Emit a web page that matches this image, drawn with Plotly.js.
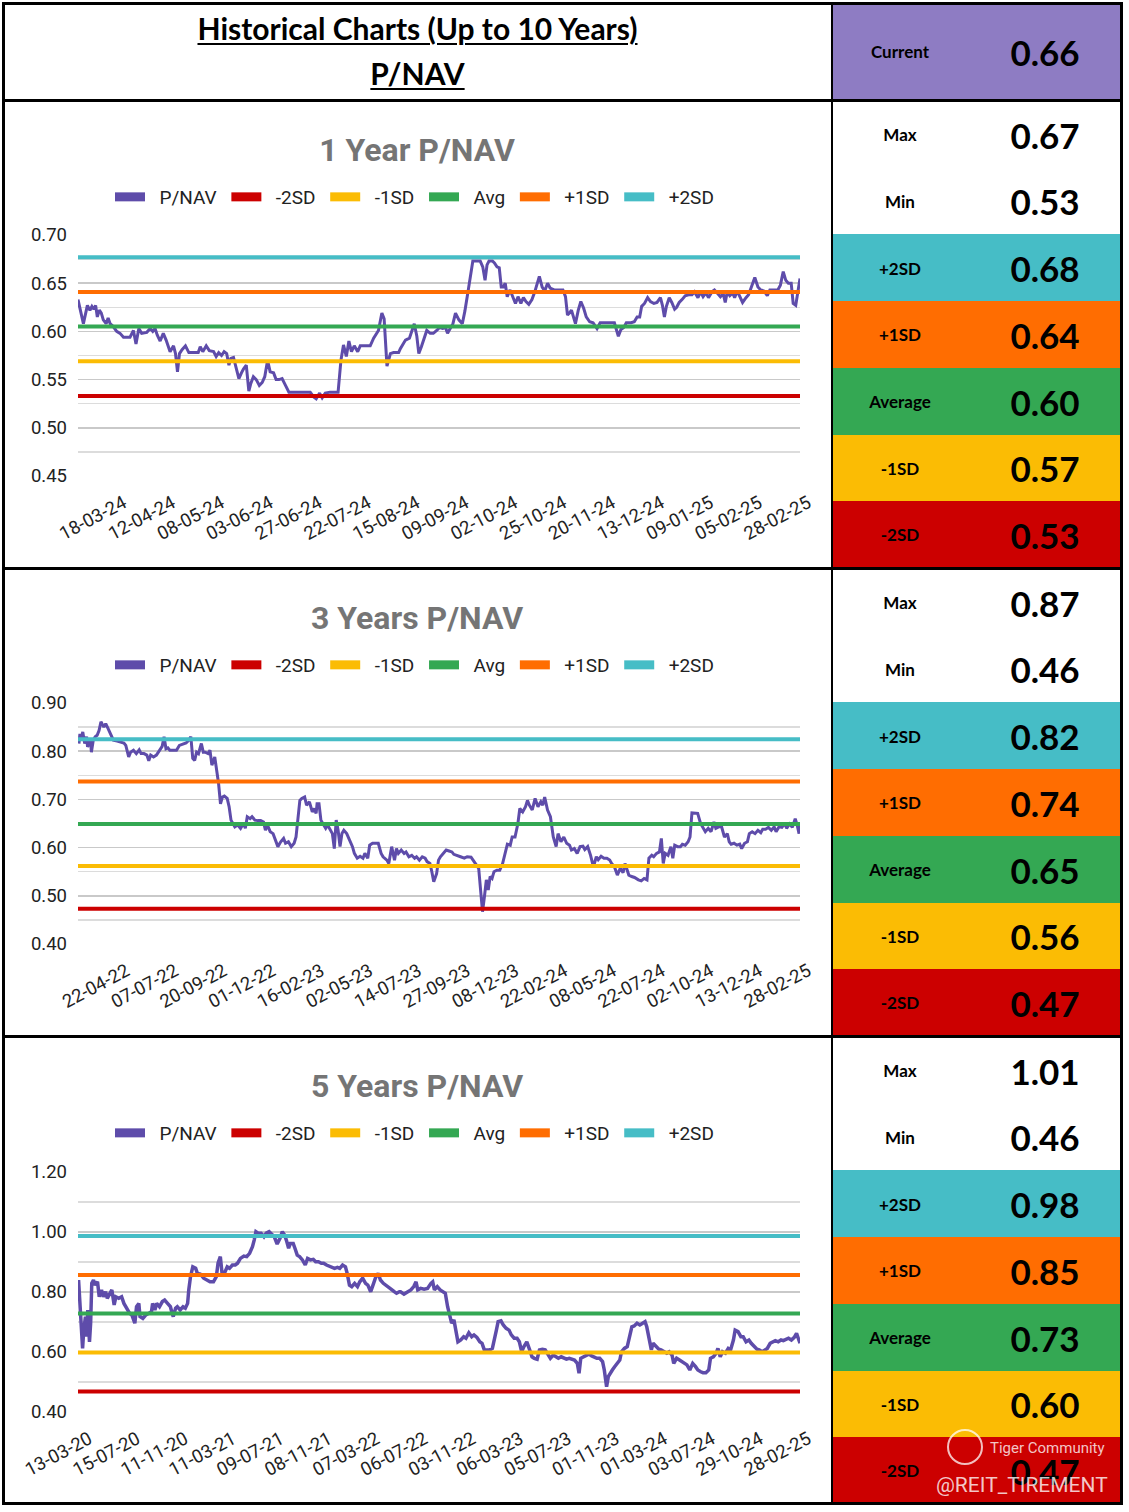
<!DOCTYPE html>
<html><head><meta charset="utf-8">
<script src="https://cdn.plot.ly/plotly-3.0.1.min.js"></script>
<style>
body{margin:0;background:#fff;}
#page{position:relative;width:1129px;height:1512px;overflow:hidden;background:#fff;}
.bl{position:absolute;background:#000;z-index:10;}
.chart{position:absolute;left:2px;width:830px;height:467px;z-index:1;}
.cell{position:absolute;left:833px;width:289px;z-index:2;}
.lab{position:absolute;left:0;width:134px;top:0;bottom:0;display:flex;align-items:center;justify-content:center;font-family:Lato;font-weight:bold;font-size:17px;color:#000;}
.val{position:absolute;left:142px;width:140px;top:0;bottom:0;display:flex;align-items:center;justify-content:center;font-family:Lato;font-weight:bold;font-size:35px;color:#000;}
.hdr{position:absolute;left:3px;width:829px;text-align:center;font-family:Lato;font-weight:bold;font-size:30px;color:#000;text-decoration:underline;text-decoration-thickness:2px;text-underline-offset:3px;z-index:3;}
.wm{position:absolute;z-index:20;color:rgba(255,255,255,0.78);font-family:Roboto;}
</style>
</head><body>
<div id="page"></div>
<script>
// ---------------- DATA ----------------
const currentValue = '0.66';
const rowLabels = ['Max','Min','+2SD','+1SD','Average','-1SD','-2SD'];
const table1Y = ['0.67','0.53','0.68','0.64','0.60','0.57','0.53'];
const table3Y = ['0.87','0.46','0.82','0.74','0.65','0.56','0.47'];
const table5Y = ['1.01','0.46','0.98','0.85','0.73','0.60','0.47'];

const legendNames = ['P/NAV','-2SD','-1SD','Avg','+1SD','+2SD'];
// band levels: -2SD, -1SD, Avg, +1SD, +2SD
const bands1Y = [0.533, 0.569, 0.605, 0.641, 0.677];
const bands3Y = [0.473, 0.562, 0.649, 0.737, 0.825];
const bands5Y = [0.468, 0.598, 0.728, 0.857, 0.987];

const ticks1Y = ['18-03-24','12-04-24','08-05-24','03-06-24','27-06-24','22-07-24','15-08-24','09-09-24','02-10-24','25-10-24','20-11-24','13-12-24','09-01-25','05-02-25','28-02-25'];
const ticks3Y = ['22-04-22','07-07-22','20-09-22','01-12-22','16-02-23','02-05-23','14-07-23','27-09-23','08-12-23','22-02-24','08-05-24','22-07-24','02-10-24','13-12-24','28-02-25'];
const ticks5Y = ['13-03-20','15-07-20','11-11-20','11-03-21','09-07-21','08-11-21','07-03-22','06-07-22','03-11-22','06-03-23','05-07-23','01-11-23','01-03-24','03-07-24','29-10-24','28-02-25'];

// [trading-day index, P/NAV]
const pnav1Y = [[0,0.633],[1.9,0.608],[3.3,0.627],[4.2,0.622],[4.9,0.626],[5.6,0.623],[6.2,0.627],[6.8,0.615],[7.5,0.622],[8.2,0.619],[8.9,0.612],[9.9,0.608],[10.6,0.614],[11.3,0.608],[12.4,0.605],[13.6,0.600],[14.8,0.598],[16.0,0.594],[18.3,0.594],[19.5,0.601],[20.4,0.587],[21.4,0.603],[22.4,0.598],[24.2,0.599],[25.4,0.603],[26.3,0.600],[27.1,0.603],[27.9,0.596],[28.9,0.590],[30.0,0.598],[31.0,0.591],[32.4,0.579],[33.6,0.585],[34.3,0.577],[35.0,0.558],[35.7,0.577],[36.6,0.581],[37.8,0.585],[39.0,0.578],[40.6,0.578],[42.3,0.578],[43.0,0.584],[43.9,0.579],[45.1,0.585],[46.2,0.580],[47.7,0.579],[48.6,0.574],[49.5,0.578],[50.5,0.575],[51.4,0.579],[52.3,0.577],[53.1,0.565],[53.8,0.572],[54.7,0.573],[55.6,0.563],[56.6,0.551],[57.5,0.557],[58.2,0.561],[59.2,0.565],[60.1,0.538],[60.8,0.546],[61.7,0.553],[62.7,0.550],[63.8,0.544],[64.8,0.547],[65.7,0.553],[66.7,0.570],[67.6,0.558],[68.8,0.557],[69.7,0.550],[70.7,0.550],[71.8,0.551],[73.0,0.544],[74.2,0.537],[77.0,0.537],[79.3,0.537],[81.7,0.537],[82.9,0.532],[83.8,0.530],[85.0,0.536],[85.9,0.531],[87.0,0.536],[88.7,0.537],[91.5,0.537],[92.5,0.570],[93.4,0.586],[94.4,0.574],[95.3,0.590],[96.2,0.579],[97.2,0.585],[98.4,0.579],[99.3,0.585],[101.1,0.585],[102.8,0.585],[104.0,0.593],[105.7,0.601],[106.9,0.619],[107.7,0.613],[108.7,0.564],[109.9,0.577],[111.0,0.578],[112.8,0.578],[113.4,0.582],[114.3,0.586],[115.2,0.591],[116.6,0.593],[117.6,0.601],[118.3,0.608],[119.2,0.595],[119.9,0.577],[120.8,0.584],[121.8,0.593],[122.7,0.601],[123.9,0.598],[125.0,0.598],[126.2,0.601],[127.2,0.604],[128.3,0.603],[129.3,0.604],[130.0,0.598],[130.9,0.603],[131.9,0.608],[132.8,0.619],[134.0,0.612],[135.2,0.608],[136.1,0.621],[137.3,0.643],[138.2,0.660],[138.9,0.673],[140.3,0.673],[141.5,0.673],[142.4,0.667],[143.2,0.653],[143.9,0.669],[144.6,0.673],[145.8,0.673],[146.5,0.671],[147.4,0.667],[148.2,0.666],[148.9,0.646],[149.6,0.646],[150.3,0.650],[151.0,0.636],[152.0,0.643],[152.9,0.637],[153.9,0.629],[154.8,0.636],[155.8,0.629],[156.7,0.635],[157.6,0.631],[158.6,0.628],[159.7,0.633],[160.7,0.641],[161.6,0.650],[162.3,0.657],[163.3,0.646],[164.2,0.642],[165.2,0.650],[166.1,0.645],[167.5,0.643],[169.2,0.643],[170.6,0.643],[171.5,0.636],[172.2,0.617],[172.9,0.619],[173.6,0.622],[174.3,0.615],[175.0,0.608],[176.0,0.622],[176.9,0.631],[177.9,0.624],[178.8,0.615],[180.0,0.610],[181.2,0.609],[182.6,0.603],[183.7,0.609],[185.2,0.609],[187.3,0.609],[188.7,0.609],[189.4,0.602],[190.1,0.595],[191.0,0.602],[192.0,0.604],[192.9,0.609],[194.6,0.609],[195.7,0.610],[196.7,0.615],[197.6,0.615],[198.3,0.626],[199.3,0.629],[200.4,0.635],[201.4,0.631],[202.6,0.629],[203.7,0.630],[204.9,0.635],[205.6,0.627],[206.3,0.615],[207.0,0.626],[208.0,0.635],[208.9,0.630],[209.9,0.623],[210.6,0.625],[211.5,0.630],[212.5,0.633],[213.6,0.637],[214.8,0.638],[216.0,0.638],[216.9,0.641],[218.1,0.635],[219.0,0.641],[219.9,0.636],[220.9,0.640],[221.8,0.635],[223.0,0.641],[223.9,0.643],[225.1,0.639],[226.0,0.636],[227.0,0.639],[227.7,0.630],[228.4,0.641],[229.3,0.637],[230.3,0.640],[231.0,0.635],[231.9,0.642],[232.9,0.635],[233.8,0.630],[235.0,0.635],[235.9,0.638],[236.9,0.646],[238.1,0.656],[239.2,0.646],[240.2,0.643],[241.3,0.642],[242.5,0.637],[243.4,0.643],[244.8,0.643],[246.2,0.643],[247.1,0.648],[248.1,0.662],[249.0,0.653],[249.9,0.650],[250.9,0.650],[251.6,0.629],[252.5,0.627],[253.3,0.643],[254.0,0.655]];

const pnav3Y = [[1,0.816],[2,0.836],[3,0.823],[5,0.840],[7,0.816],[9,0.830],[10,0.809],[13,0.823],[14,0.798],[16,0.823],[18,0.830],[20,0.833],[22,0.843],[24,0.861],[27,0.850],[29,0.857],[31,0.849],[34,0.836],[37,0.823],[41,0.821],[44,0.819],[48,0.817],[50,0.812],[53,0.788],[55,0.798],[58,0.802],[61,0.795],[64,0.803],[66,0.795],[69,0.795],[72,0.792],[74,0.780],[76,0.792],[79,0.788],[82,0.792],[85,0.802],[88,0.810],[90,0.830],[92,0.805],[94,0.807],[96,0.802],[100,0.802],[103,0.802],[106,0.812],[110,0.814],[113,0.817],[116,0.823],[118,0.830],[120,0.785],[122,0.781],[124,0.798],[126,0.795],[129,0.816],[131,0.798],[133,0.798],[136,0.795],[138,0.802],[140,0.771],[143,0.788],[145,0.760],[147,0.733],[149,0.691],[151,0.705],[153,0.707],[156,0.702],[158,0.685],[160,0.657],[162,0.650],[164,0.643],[167,0.647],[170,0.640],[173,0.650],[175,0.640],[177,0.664],[180,0.660],[182,0.664],[185,0.657],[188,0.656],[191,0.656],[194,0.653],[196,0.636],[198,0.647],[201,0.633],[204,0.629],[207,0.615],[209,0.602],[212,0.612],[215,0.619],[217,0.609],[220,0.612],[223,0.602],[226,0.609],[228,0.622],[230,0.664],[232,0.698],[234,0.702],[237,0.705],[239,0.688],[242,0.695],[245,0.674],[247,0.681],[249,0.671],[250,0.691],[252,0.691],[254,0.657],[256,0.650],[259,0.640],[261,0.647],[263,0.640],[266,0.629],[268,0.598],[270,0.657],[272,0.636],[274,0.602],[276,0.629],[278,0.636],[281,0.629],[284,0.615],[287,0.602],[289,0.588],[292,0.578],[295,0.582],[298,0.578],[300,0.588],[303,0.578],[305,0.605],[308,0.609],[311,0.609],[314,0.609],[317,0.588],[319,0.581],[323,0.574],[325,0.567],[328,0.602],[331,0.574],[333,0.598],[335,0.588],[338,0.595],[341,0.588],[343,0.591],[346,0.581],[349,0.584],[352,0.578],[354,0.581],[357,0.574],[360,0.581],[363,0.578],[365,0.571],[368,0.567],[370,0.550],[372,0.529],[375,0.546],[377,0.574],[379,0.581],[382,0.589],[385,0.595],[388,0.593],[391,0.591],[393,0.586],[397,0.584],[400,0.581],[404,0.578],[407,0.581],[411,0.580],[414,0.571],[416,0.567],[419,0.557],[421,0.512],[423,0.467],[425,0.498],[427,0.533],[429,0.512],[431,0.540],[433,0.536],[435,0.550],[438,0.553],[441,0.553],[444,0.567],[447,0.588],[449,0.607],[452,0.605],[454,0.622],[457,0.622],[460,0.650],[462,0.681],[465,0.674],[468,0.685],[470,0.698],[472,0.688],[475,0.678],[478,0.702],[481,0.685],[484,0.695],[486,0.688],[488,0.705],[491,0.678],[494,0.664],[497,0.622],[500,0.602],[502,0.629],[505,0.612],[508,0.622],[511,0.609],[514,0.605],[516,0.595],[519,0.598],[522,0.588],[525,0.602],[528,0.603],[530,0.596],[533,0.602],[536,0.584],[539,0.560],[542,0.581],[544,0.575],[547,0.582],[550,0.578],[553,0.578],[556,0.574],[558,0.567],[561,0.560],[564,0.543],[567,0.557],[570,0.548],[572,0.567],[574,0.553],[576,0.543],[579,0.540],[582,0.538],[586,0.533],[589,0.531],[592,0.536],[595,0.533],[597,0.578],[600,0.584],[602,0.581],[605,0.588],[608,0.591],[610,0.619],[612,0.567],[614,0.588],[617,0.584],[620,0.602],[622,0.578],[624,0.605],[627,0.602],[630,0.602],[632,0.607],[635,0.605],[638,0.612],[640,0.622],[642,0.672],[645,0.672],[648,0.671],[651,0.650],[653,0.643],[656,0.633],[659,0.640],[662,0.633],[665,0.653],[667,0.640],[670,0.643],[673,0.643],[676,0.622],[679,0.629],[681,0.612],[683,0.607],[686,0.609],[689,0.605],[692,0.607],[694,0.598],[697,0.609],[700,0.612],[702,0.629],[705,0.633],[708,0.629],[711,0.636],[714,0.631],[716,0.638],[719,0.638],[722,0.642],[725,0.636],[728,0.643],[730,0.633],[733,0.643],[736,0.642],[739,0.650],[741,0.640],[744,0.649],[747,0.642],[750,0.660],[752,0.647],[754,0.629],[755,0.653]];

const pnav5Y = [[1,0.840],[3,0.773],[6,0.651],[8,0.612],[10,0.673],[13,0.718],[15,0.651],[17,0.740],[20,0.634],[22,0.696],[24,0.829],[27,0.840],[30,0.823],[34,0.834],[37,0.784],[41,0.807],[44,0.784],[48,0.801],[51,0.779],[55,0.796],[59,0.807],[63,0.757],[66,0.784],[71,0.779],[76,0.784],[80,0.762],[85,0.746],[90,0.729],[94,0.723],[99,0.696],[102,0.751],[106,0.762],[108,0.718],[113,0.712],[118,0.723],[123,0.729],[128,0.734],[130,0.762],[134,0.740],[137,0.762],[142,0.751],[147,0.768],[151,0.773],[156,0.762],[161,0.751],[164,0.729],[166,0.718],[170,0.746],[173,0.751],[178,0.740],[183,0.751],[187,0.746],[191,0.762],[193,0.807],[196,0.851],[200,0.884],[205,0.879],[208,0.862],[213,0.860],[219,0.846],[225,0.840],[230,0.834],[236,0.834],[241,0.851],[244,0.896],[248,0.918],[251,0.862],[255,0.862],[260,0.884],[264,0.879],[269,0.890],[274,0.890],[278,0.896],[283,0.912],[289,0.920],[294,0.918],[299,0.929],[304,0.951],[307,0.973],[310,1.001],[314,0.996],[319,0.996],[324,0.984],[328,0.996],[333,1.001],[338,0.990],[342,0.984],[347,0.960],[352,0.979],[356,1.001],[360,0.990],[363,0.973],[367,0.946],[370,0.962],[375,0.962],[378,0.946],[382,0.923],[386,0.918],[391,0.907],[396,0.890],[400,0.912],[405,0.907],[410,0.909],[414,0.901],[419,0.901],[424,0.896],[428,0.896],[433,0.890],[438,0.887],[442,0.884],[447,0.879],[452,0.882],[456,0.879],[461,0.890],[466,0.884],[469,0.862],[473,0.823],[477,0.818],[482,0.829],[487,0.818],[491,0.834],[496,0.846],[501,0.829],[505,0.823],[510,0.801],[514,0.823],[519,0.851],[523,0.862],[527,0.840],[532,0.829],[537,0.823],[541,0.818],[546,0.809],[551,0.801],[555,0.796],[560,0.801],[562,0.801],[568,0.793],[574,0.801],[580,0.807],[585,0.818],[589,0.834],[592,0.807],[597,0.812],[603,0.809],[609,0.812],[615,0.829],[618,0.834],[621,0.807],[626,0.818],[631,0.807],[636,0.801],[640,0.796],[644,0.751],[647,0.723],[651,0.696],[655,0.707],[659,0.657],[662,0.634],[667,0.640],[672,0.651],[676,0.646],[681,0.664],[686,0.651],[690,0.657],[695,0.649],[700,0.634],[704,0.629],[708,0.607],[712,0.607],[717,0.607],[722,0.612],[725,0.634],[729,0.673],[732,0.701],[737,0.704],[741,0.690],[746,0.679],[751,0.673],[755,0.657],[760,0.646],[765,0.646],[769,0.634],[773,0.601],[777,0.618],[782,0.634],[787,0.607],[791,0.584],[795,0.579],[800,0.576],[804,0.607],[809,0.609],[814,0.607],[818,0.593],[823,0.579],[828,0.590],[832,0.584],[837,0.579],[842,0.584],[846,0.579],[851,0.576],[856,0.579],[860,0.576],[865,0.573],[870,0.562],[873,0.529],[876,0.579],[881,0.584],[886,0.590],[890,0.593],[895,0.587],[900,0.582],[904,0.579],[909,0.579],[914,0.568],[917,0.540],[921,0.484],[924,0.518],[928,0.534],[931,0.540],[935,0.551],[939,0.562],[944,0.573],[947,0.601],[952,0.612],[957,0.618],[961,0.651],[965,0.684],[969,0.687],[974,0.696],[979,0.690],[983,0.696],[988,0.701],[991,0.684],[995,0.640],[999,0.607],[1002,0.629],[1007,0.618],[1012,0.609],[1016,0.607],[1021,0.601],[1026,0.596],[1030,0.601],[1035,0.590],[1038,0.562],[1043,0.579],[1048,0.573],[1052,0.568],[1057,0.562],[1061,0.557],[1066,0.540],[1071,0.562],[1076,0.551],[1080,0.540],[1085,0.534],[1089,0.531],[1094,0.531],[1099,0.540],[1102,0.579],[1107,0.584],[1112,0.596],[1115,0.612],[1119,0.584],[1123,0.601],[1128,0.596],[1133,0.612],[1137,0.607],[1142,0.640],[1145,0.673],[1150,0.668],[1155,0.651],[1159,0.651],[1164,0.634],[1169,0.640],[1173,0.629],[1178,0.618],[1183,0.609],[1187,0.607],[1192,0.601],[1197,0.607],[1201,0.612],[1206,0.629],[1211,0.634],[1215,0.638],[1220,0.634],[1225,0.640],[1229,0.638],[1234,0.642],[1238,0.646],[1243,0.640],[1248,0.649],[1252,0.662],[1256,0.640],[1258,0.629]];

// ---------------- STYLE ----------------
const lineColors = ['#5E4CAA','#CC0000','#FBBC04','#34A853','#FF6D01','#46BDC6'];
const cellColors = ['#FFFFFF','#FFFFFF','#46BDC6','#FF6D01','#34A853','#FBBC04','#CC0000'];

const page = document.getElementById('page');
function el(cls, css, html){ const d=document.createElement('div'); if(cls) d.className=cls; Object.assign(d.style, css||{}); if(html!==undefined) d.innerHTML=html; page.appendChild(d); return d; }

// header
el('hdr', {top:'10px'}, 'Historical Charts (Up to 10 Years)');
el('hdr', {top:'55px'}, 'P/NAV');
const cur = el('cell', {top:'3px', height:'97px', background:'#8E7CC3'});
cur.innerHTML = '<div class="lab">Current</div><div class="val">'+currentValue+'</div>';

// right tables
const panelTops = [101, 569, 1037];
[table1Y, table3Y, table5Y].forEach((tbl, p) => {
  const top0 = panelTops[p]; const h = 467/7;
  tbl.forEach((v, i) => {
    const c = el('cell', {top:(top0 + i*h)+'px', height:(h+0.6)+'px', background:cellColors[i]});
    c.innerHTML = '<div class="lab">'+rowLabels[i]+'</div><div class="val">'+v+'</div>';
  });
});

// borders
el('bl', {left:'2px', top:'2px', width:'1121px', height:'3px'});
el('bl', {left:'2px', top:'1502px', width:'1121px', height:'3px'});
el('bl', {left:'2px', top:'2px', width:'3px', height:'1503px'});
el('bl', {left:'1120px', top:'2px', width:'3px', height:'1503px'});
el('bl', {left:'831px', top:'2px', width:'2px', height:'1503px'});
[99, 567, 1035].forEach(y => el('bl', {left:'2px', top:y+'px', width:'1121px', height:'2.5px'}));

// watermark
el('wm', {left:'947px', top:'1429px', width:'32px', height:'32px', border:'2px solid rgba(255,255,255,0.75)', borderRadius:'50%'});
el('wm', {left:'990px', top:'1439px', fontSize:'15px'}, 'Tiger Community');
el('wm', {left:'936px', top:'1473px', fontSize:'21px'}, '@REIT_TIREMENT');

// charts
const lead = '\u00a0\u00a0', trail = '\u00a0';
function makeChart(top, title, pnav, bands, yr, majorDt, minorDt, labels, lastDay, step, pw){
  const d = el('chart', {top: top+'px'});
  const traces = [{
    x: pnav.map(p=>p[0]), y: pnav.map(p=>p[1]), name: legendNames[0], mode:'lines',
    line:{color:lineColors[0], width:pw}, showlegend:false
  }];
  bands.forEach((v,i) => traces.push({
    x:[0,lastDay], y:[v,v], name: legendNames[i+1], mode:'lines',
    line:{color:lineColors[i+1], width:4}, showlegend:false
  }));
  // legend keys
  legendNames.forEach((n,i) => traces.push({
    x:[null], y:[null], name: lead + n + trail, mode:'lines', line:{color:lineColors[i], width:9}, showlegend:true
  }));
  const tickvals = labels.map((_,i) => lastDay - (labels.length-1-i)*step);
  const layout = {
    width:830, height:467, margin:{l:76, r:32, t:top===1037?135:134, b:92},
    paper_bgcolor:'rgba(0,0,0,0)', plot_bgcolor:'rgba(0,0,0,0)',
    font:{family:'Roboto', size:18, color:'#222'},
    title:{text:title, font:{family:'Roboto', size:32, color:'#757575', weight:'bold'}, x:0.5, xref:'container', y:1-49/467, yref:'container', yanchor:'middle'},
    showlegend:true,
    legend:{orientation:'h', x:0.5, xanchor:'center', xref:'container', y:1-96/467, yref:'container', yanchor:'middle', font:{family:'Roboto', size:19, color:'#222'}, itemwidth:30, traceorder:'normal'},
    xaxis:{range:[0,lastDay], tickvals:tickvals, ticktext:labels, tickangle:-28, showgrid:false, zeroline:false, showline:false, ticks:'', tickfont:{size:18.5, color:'#222'}, ticklabelstandoff:12, ticklabelshift:8},
    yaxis:{range:yr, dtick:majorDt, tick0:0, tickformat:'.2f', showgrid:true, gridcolor:'#c9c9c9', gridwidth:1.5, zeroline:false, showline:false, ticks:'', tickfont:{size:18.5, color:'#222'}, ticklabelstandoff:10,
      minor:{dtick:minorDt, tick0:0, showgrid:true, gridcolor:'#dcdcdc', gridwidth:1.5, ticks:''}}
  };
  Plotly.newPlot(d, traces, layout, {staticPlot:true, displayModeBar:false});
}
makeChart(101, '1 Year P/NAV', pnav1Y, bands1Y, [0.45,0.70], 0.05, 0.025, ticks1Y, 254, 17.2, 3);
makeChart(569, '3 Years P/NAV', pnav3Y, bands3Y, [0.40,0.90], 0.10, 0.05, ticks3Y, 755, 50.9, 3);
makeChart(1037, '5 Years P/NAV', pnav5Y, bands5Y, [0.40,1.20], 0.20, 0.10, ticks5Y, 1258, 83.5, 3.5);
</script>
</body></html>
